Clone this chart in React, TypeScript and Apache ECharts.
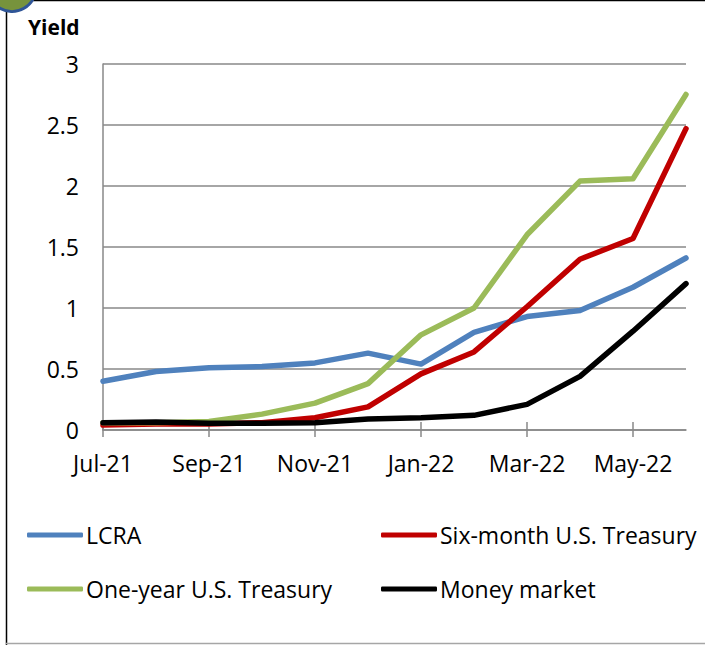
import React, { useEffect, useRef } from "react";
import * as echarts from "echarts";

const months = ["Jul-21", "Aug-21", "Sep-21", "Oct-21", "Nov-21", "Dec-21", "Jan-22", "Feb-22", "Mar-22", "Apr-22", "May-22", "Jun-22"];
const lcra = [0.4, 0.48, 0.51, 0.52, 0.55, 0.63, 0.54, 0.8, 0.93, 0.98, 1.17, 1.41];
const sixMonth = [0.04, 0.05, 0.05, 0.06, 0.1, 0.19, 0.46, 0.64, 1.01, 1.4, 1.57, 2.47];
const oneYear = [0.06, 0.06, 0.07, 0.13, 0.22, 0.38, 0.78, 1.0, 1.6, 2.04, 2.06, 2.75];
const moneyMarket = [0.06, 0.065, 0.055, 0.055, 0.06, 0.09, 0.1, 0.12, 0.21, 0.44, 0.81, 1.2];

const seriesNames = ["LCRA", "Six-month U.S. Treasury", "One-year U.S. Treasury", "Money market"];
const seriesColors = ["#4F81BD", "#C00000", "#9BBB59", "#000000"];
const seriesData = [lcra, sixMonth, oneYear, moneyMarket];

const FONT = "'Open Sans', 'Noto Sans', sans-serif";
const GRID = "#888888";

export default function App() {
  const ref = useRef<HTMLDivElement>(null);
  useEffect(() => {
    if (!ref.current) return;
    const chart = echarts.init(ref.current, null, { renderer: "svg" });
    const legendPos = [
      { left: 27, top: 523 },
      { left: 381, top: 523 },
      { left: 27, top: 577 },
      { left: 381, top: 577 },
    ];
    chart.setOption({
      animation: false,
      backgroundColor: "#ffffff",
      textStyle: { fontFamily: FONT },
      grid: { left: 103, right: 19, top: 64, bottom: 215, containLabel: false },
      legend: seriesNames.map((n, i) => ({
        data: [n],
        left: legendPos[i].left,
        top: legendPos[i].top,
        padding: 0,
        icon: "roundRect",
        itemWidth: 56,
        itemHeight: 5,
        itemGap: 0,
        selectedMode: false,
        textStyle: { fontFamily: FONT, fontSize: 23, color: "#000", lineHeight: 24, padding: [0, 0, 0, -2] },
      })),
      xAxis: [
        {
          type: "category",
          data: months,
          boundaryGap: false,
          position: "bottom",
          axisLine: { show: true, lineStyle: { color: GRID, width: 1.5 } },
          axisTick: { show: true, interval: 1, length: 7, lineStyle: { color: GRID, width: 1.5 } },
          axisLabel: { interval: 1, fontFamily: FONT, fontSize: 23, color: "#000", margin: 21 },
          splitLine: { show: false },
        },
        {
          type: "category",
          data: months,
          boundaryGap: false,
          position: "bottom",
          axisLine: { show: false },
          axisTick: { show: true, inside: true, interval: 1, length: 8, lineStyle: { color: GRID, width: 1.5 } },
          axisLabel: { show: false },
          splitLine: { show: false },
        },
      ],
      yAxis: {
        type: "value",
        min: 0,
        max: 3,
        interval: 0.5,
        axisLine: { show: true, lineStyle: { color: GRID, width: 1.5 } },
        axisTick: { show: false },
        axisLabel: { fontFamily: FONT, fontSize: 23, color: "#000", margin: 24 },
        splitLine: { show: true, lineStyle: { color: GRID, width: 1.5 } },
      },
      series: seriesNames.map((n, i) => ({
        name: n,
        type: "line",
        data: seriesData[i],
        xAxisIndex: 0,
        symbol: "none",
        smooth: false,
        color: seriesColors[i],
        lineStyle: { color: seriesColors[i], width: 5.5, cap: "round", join: "round" },
        emphasis: { disabled: true },
        z: 3 + i,
      })),
      graphic: [
        { type: "line", shape: { x1: 6.5, y1: 0, x2: 6.5, y2: 645 }, style: { stroke: "#000", lineWidth: 1.5 } },
        { type: "line", shape: { x1: 0, y1: 0.5, x2: 705, y2: 0.5 }, style: { stroke: "#000", lineWidth: 1.5 } },
        { type: "line", shape: { x1: 6, y1: 643.5, x2: 705, y2: 643.5 }, style: { stroke: "#A6A6A6", lineWidth: 1.5 } },
        { type: "circle", shape: { cx: 12, cy: -12.5, r: 24 }, style: { fill: "#77933C", stroke: "#2F5597", lineWidth: 3 } },
        {
          type: "text",
          left: 28,
          top: 16,
          style: { text: "Yield", fontFamily: FONT, fontSize: 21, fontWeight: "bold", fill: "#000" },
        },
      ],
    });
    return () => chart.dispose();
  }, []);
  return <div ref={ref} style={{ position: "fixed", left: 0, top: 0, width: 705, height: 645 }} />;
}
